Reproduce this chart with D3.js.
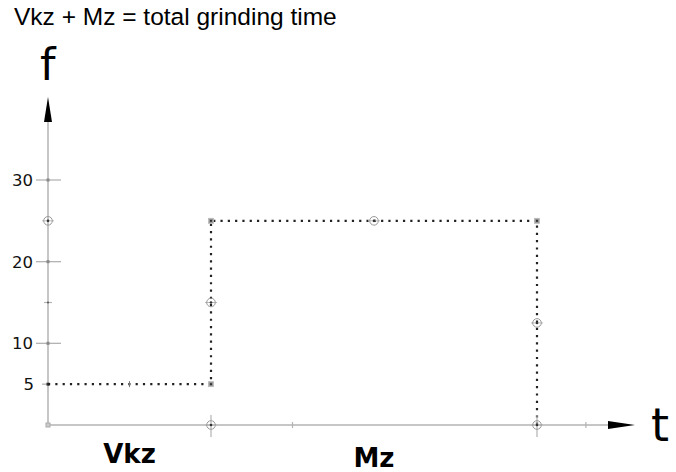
<!DOCTYPE html>
<html><head><meta charset="utf-8">
<script src="https://cdn.jsdelivr.net/npm/d3@7"></script>
<style>html,body{margin:0;padding:0;background:#fff;}svg{display:block;}</style>
</head><body>
<script>
// ---- data ----
const title = "Vkz + Mz = total grinding time";
const pathT = [0, 2, 2, 6, 6];
const pathF = [5, 5, 25, 25, 0];
const cornerT = [2, 2, 6];
const cornerF = [5, 25, 25];
const circleT = [2, 4, 6, 6, 2, 0];
const circleF = [15, 25, 12.5, 0, 0, 25];
const yTickValues = [5, 10, 20, 30];
const yTickLabels = ["5", "10", "20", "30"];
const yMinorValues = [15];
const xMinorValues = [3, 6.6];
const phaseNames = ["Vkz", "Mz"];
const phaseT = [1, 4];
const axisLabelX = "t", axisLabelY = "f";

const W = 676, H = 472;
const svg = d3.select("body").append("svg").attr("width", W).attr("height", H);
const x = d3.scaleLinear().domain([0, 2]).range([48, 211]);
const y = d3.scaleLinear().domain([0, 30]).range([425, 180]);
const axisCol = "#b3b3b3";

svg.append("text").attr("x", 14).attr("y", 25).attr("font-family", "Liberation Sans, Arial, sans-serif")
  .attr("font-size", 24.5).attr("fill", "#000").text(title);

// axes lines
svg.append("line").attr("x1", x(0)).attr("x2", 610).attr("y1", y(0)).attr("y2", y(0))
  .attr("stroke", axisCol).attr("stroke-width", 1.5);
svg.append("line").attr("x1", x(0)).attr("x2", x(0)).attr("y1", y(0)).attr("y2", 120)
  .attr("stroke", axisCol).attr("stroke-width", 1.5);
// arrows
svg.append("path").attr("d", `M608,${y(0)-4} L635,${y(0)} L608,${y(0)+4} Z`).attr("fill", "#000");
svg.append("path").attr("d", `M${x(0)-4},122 L${x(0)},97 L${x(0)+4},122 Z`).attr("fill", "#000");
svg.append("text").attr("x", 651).attr("y", 441).attr("font-family", "DejaVu Sans, sans-serif")
  .attr("font-size", 46).text(axisLabelX);
svg.append("text").attr("x", 40).attr("y", 80).attr("font-family", "DejaVu Sans, sans-serif")
  .attr("font-size", 44).text(axisLabelY);

// y ticks
yTickValues.forEach((v, i) => {
  const big = v !== 5;
  svg.append("line").attr("x1", big ? 36 : 42).attr("x2", big ? 61 : 48)
    .attr("y1", y(v)).attr("y2", y(v)).attr("stroke", axisCol).attr("stroke-width", 1.3);
  svg.append("text").attr("x", big ? 33 : 34).attr("y", y(v)).attr("dy", "0.36em")
    .attr("text-anchor", "end").attr("font-family", "DejaVu Sans, Verdana, sans-serif")
    .attr("font-size", 16.5).attr("fill", "#111").text(yTickLabels[i]);
  svg.append("rect").attr("x", x(0) - 1.5).attr("y", y(v) - 1.5).attr("width", 3).attr("height", 3)
    .attr("fill", v === 5 ? "#333" : "#888");
});
yMinorValues.forEach(v => {
  svg.append("line").attr("x1", x(0) - 4).attr("x2", x(0) + 4).attr("y1", y(v)).attr("y2", y(v))
    .attr("stroke", axisCol).attr("stroke-width", 1.2);
  svg.append("circle").attr("cx", x(0)).attr("cy", y(v)).attr("r", 1).attr("fill", "#555");
});
xMinorValues.forEach(v => {
  svg.append("line").attr("x1", x(v)).attr("x2", x(v)).attr("y1", y(0) - 3).attr("y2", y(0) + 3)
    .attr("stroke", axisCol).attr("stroke-width", 1.2);
});
svg.append("rect").attr("x", x(0) - 2).attr("y", y(0) - 2).attr("width", 4).attr("height", 4)
  .attr("fill", "#ccc").attr("stroke", "#aaa");

// dotted path
const line = d3.line().x(d => x(d[0])).y(d => y(d[1]));
svg.append("path").datum(pathT.map((t, i) => [t, pathF[i]])).attr("d", line)
  .attr("fill", "none").attr("stroke", "#222").attr("stroke-width", 2.2)
  .attr("stroke-dasharray", "2.2,5.1");

// crosshair lines on x axis at phase borders
[2, 6].forEach(t => {
  svg.append("line").attr("x1", x(t)).attr("x2", x(t)).attr("y1", y(0) - 10).attr("y2", y(0) + 12)
    .attr("stroke", axisCol).attr("stroke-width", 1.2);
});

// corner squares
cornerT.forEach((t, i) => {
  svg.append("rect").attr("x", x(t) - 2.5).attr("y", y(cornerF[i]) - 2.5).attr("width", 5).attr("height", 5)
    .attr("fill", "#999").attr("stroke", "#bbb").attr("stroke-width", 0.8);
  svg.append("rect").attr("x", x(t) - 1).attr("y", y(cornerF[i]) - 1).attr("width", 2).attr("height", 2)
    .attr("fill", "#333");
});
// circle markers
circleT.forEach((t, i) => {
  const cx = x(t), cy = y(circleF[i]);
  svg.append("line").attr("x1", cx - 6).attr("x2", cx + 6).attr("y1", cy).attr("y2", cy)
    .attr("stroke", "#bbb").attr("stroke-width", 1);
  svg.append("circle").attr("cx", cx).attr("cy", cy).attr("r", 4.3).attr("fill", "none")
    .attr("stroke", "#999").attr("stroke-width", 1);
  svg.append("circle").attr("cx", cx).attr("cy", cy).attr("r", 1.3).attr("fill", "#333");
});
// plus on low line
svg.append("line").attr("x1", x(1)).attr("x2", x(1)).attr("y1", y(5) - 3).attr("y2", y(5) + 3)
  .attr("stroke", "#777").attr("stroke-width", 1);

// phase labels
phaseNames.forEach((n, i) => {
  svg.append("text").attr("x", x(phaseT[i])).attr("y", i === 0 ? 463 : 467).attr("text-anchor", "middle")
    .attr("font-family", "DejaVu Sans, Verdana, sans-serif").attr("font-weight", "bold")
    .attr("font-size", 26).attr("fill", "#000").text(n);
});
</script>
</body></html>
